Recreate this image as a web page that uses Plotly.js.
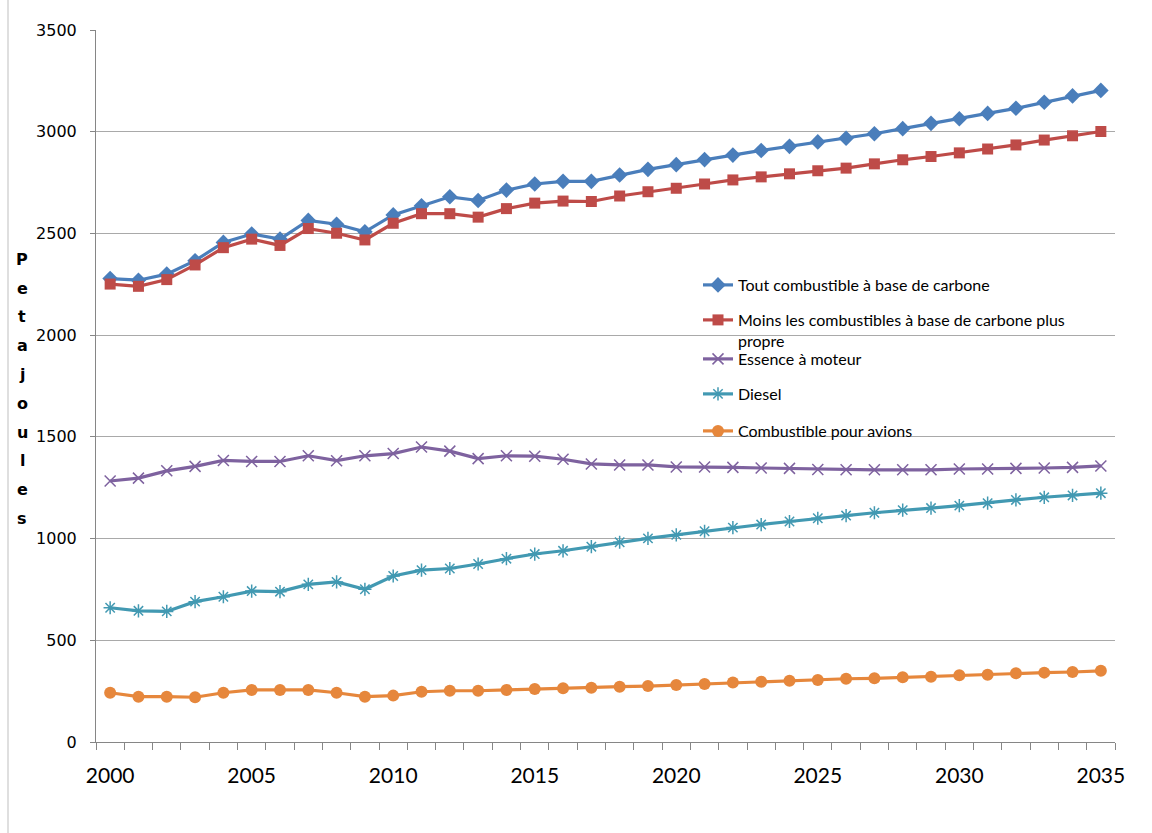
<!DOCTYPE html>
<html>
<head>
<meta charset="utf-8">
<script src="https://cdn.plot.ly/plotly-3.0.1.min.js"></script>
<style>
  html, body { margin: 0; padding: 0; background: #fff; }
  #chart { width: 1152px; height: 833px; }
</style>
</head>
<body>
<div id="chart"></div>
<script>
const years = [2000, 2001, 2002, 2003, 2004, 2005, 2006, 2007, 2008, 2009,
               2010, 2011, 2012, 2013, 2014, 2015, 2016, 2017, 2018, 2019,
               2020, 2021, 2022, 2023, 2024, 2025, 2026, 2027, 2028, 2029,
               2030, 2031, 2032, 2033, 2034, 2035];

const toutCombustible = [2278, 2270, 2300, 2366, 2456, 2497, 2472, 2564, 2545, 2508,
                         2591, 2636, 2680, 2662, 2713, 2743, 2756, 2756, 2787, 2815,
                         2838, 2863, 2885, 2908, 2928, 2950, 2968, 2990, 3015, 3041,
                         3064, 3090, 3115, 3145, 3176, 3203];

const moinsPropre = [2251, 2240, 2273, 2345, 2430, 2472, 2441, 2524, 2501, 2468,
                     2550, 2597, 2597, 2580, 2622, 2649, 2659, 2657, 2684, 2705,
                     2722, 2743, 2763, 2778, 2793, 2808, 2821, 2842, 2862, 2878,
                     2896, 2915, 2935, 2959, 2980, 3001];

const essence = [1283, 1297, 1333, 1355, 1384, 1379, 1379, 1407, 1383, 1407,
                 1418, 1450, 1430, 1393, 1407, 1405, 1390, 1367, 1362, 1362,
                 1352, 1352, 1350, 1347, 1345, 1340, 1338, 1338, 1338, 1338,
                 1342, 1342, 1345, 1347, 1350, 1357];

const diesel = [660, 645, 642, 690, 714, 742, 739, 775, 787, 751,
                816, 845, 853, 875, 901, 924, 940, 960, 982, 1001,
                1018, 1036, 1054, 1069, 1084, 1100, 1113, 1127, 1140, 1150,
                1162, 1174, 1190, 1203, 1212, 1223];

const avions = [242, 223, 223, 220, 242, 256, 256, 256, 242, 223,
                228, 247, 252, 252, 256, 261, 264, 267, 272, 275,
                280, 285, 292, 296, 301, 305, 311, 313, 318, 321,
                328, 331, 338, 341, 344, 350];

const seriesNames = [
  "Tout combustible à base de carbone",
  "Moins les combustibles à base de carbone plus<br>propre",
  "Essence à moteur",
  "Diesel",
  "Combustible pour avions"
];

const xTickVals = [2000, 2005, 2010, 2015, 2020, 2025, 2030, 2035];
const xTickLabels = ["2000", "2005", "2010", "2015", "2020", "2025", "2030", "2035"];
const yTickVals = [0, 500, 1000, 1500, 2000, 2500, 3000, 3500];
const yTickLabels = ["0", "500", "1000", "1500", "2000", "2500", "3000", "3500"];
const yTitleLetters = ["P", "e", "t", "a", "j", "o", "u", "l", "e", "s"];

const colors = ["#4A7EBB", "#BE4B48", "#7E629F", "#4299B2", "#E6873C"];

const legFont = { family: "Lato, Liberation Sans, sans-serif", size: 16, color: "#000" };

function tr(y, name, color, marker, legendId) {
  return {
    x: years, y: y, name: name, type: "scatter", mode: "lines+markers",
    line: { color: color, width: 3.2 },
    marker: marker,
    legend: legendId
  };
}

const data = [
  tr(toutCombustible, seriesNames[0], colors[0], { symbol: "diamond", size: 12, color: colors[0] }, "legend"),
  tr(moinsPropre, seriesNames[1], colors[1], { symbol: "square", size: 11, color: colors[1] }, "legend2"),
  tr(essence, seriesNames[2], colors[2], { symbol: "x-thin-open", size: 11, color: colors[2], line: { color: colors[2], width: 1.5 } }, "legend3"),
  tr(diesel, seriesNames[3], colors[3], { symbol: "asterisk-open", size: 11, color: colors[3], line: { color: colors[3], width: 1.5 } }, "legend4"),
  tr(avions, seriesNames[4], colors[4], { symbol: "circle", size: 12, color: colors[4] }, "legend5")
];

const L = 96, R = 1115, T = 30, B = 742;
function px2paperY(p) { return (B - p) / (B - T); }
function px2paperX(p) { return (p - L) / (R - L); }

function legendAt(ypx, anchor) {
  return {
    x: px2paperX(698), xanchor: "left",
    y: px2paperY(ypx), yanchor: anchor,
    bgcolor: "rgba(0,0,0,0)", borderwidth: 0,
    font: legFont, valign: "top", itemwidth: 30
  };
}

const annotations = yTitleLetters.map((ch, i) => ({
  text: ch, xref: "paper", yref: "paper",
  x: px2paperX(22), y: px2paperY(259.5 + i * 28.75),
  xanchor: "center", yanchor: "middle", showarrow: false,
  font: { family: "DejaVu Sans", size: 16, color: "#000", weight: "bold" }
}));

const layout = {
  width: 1152, height: 833,
  margin: { l: L, r: 1152 - R, t: T, b: 833 - B, pad: 0 },
  paper_bgcolor: "#fff", plot_bgcolor: "#fff",
  showlegend: true,
  xaxis: {
    type: "linear", range: [1999.5, 2035.5],
    tickmode: "array", tickvals: xTickVals, ticktext: xTickLabels,
    ticks: "", ticklen: 0, ticklabelstandoff: 15,
    showgrid: false, zeroline: false,
    showline: true, linecolor: "#868686", linewidth: 1,
    tickfont: { family: "Lato, Liberation Sans, sans-serif", size: 21, color: "#000" },
    minor: { tick0: 1999.5, dtick: 1, ticks: "outside", ticklen: 7, tickcolor: "#868686", tickwidth: 1, showgrid: false }
  },
  yaxis: {
    range: [0, 3500], tickmode: "array", tickvals: yTickVals, ticktext: yTickLabels,
    ticks: "outside", ticklen: 5, tickcolor: "#868686",
    showgrid: true, gridcolor: "#A9A9A9", gridwidth: 1,
    zeroline: false, showline: true, linecolor: "#868686", linewidth: 1,
    ticklabelstandoff: 10,
    tickfont: { family: "DejaVu Sans", size: 16, color: "#000" }
  },
  legend: legendAt(285, "middle"),
  legend2: legendAt(303, "top"),
  legend3: legendAt(359, "middle"),
  legend4: legendAt(394, "middle"),
  legend5: legendAt(431, "middle"),
  annotations: annotations,
  shapes: [{
    type: "line", xref: "paper", yref: "paper",
    x0: px2paperX(8), x1: px2paperX(8), y0: px2paperY(833), y1: px2paperY(0),
    line: { color: "#BFBFBF", width: 1 }
  }]
};

Plotly.newPlot("chart", data, layout, { displayModeBar: false, responsive: false });
</script>
</body>
</html>
